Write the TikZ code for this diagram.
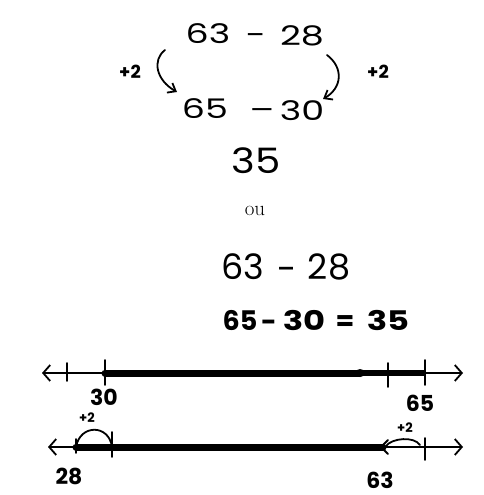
\documentclass[tikz,border=0pt]{standalone}
\usepackage{fontspec}
\setmainfont{Poppins}
\newfontfamily\wideA[FakeStretch=1.35]{Poppins}
\newfontfamily\wideB[FakeStretch=1.15]{Poppins}
\newfontfamily\wideC[FakeStretch=1.25]{Poppins}
\newfontfamily\lmr{Latin Modern Roman}
\usetikzlibrary{arrows.meta}
\tikzset{
  big/.style={font=\wideA\fontsize{27}{27}\selectfont, inner sep=0pt, anchor=base},
  res/.style={font=\wideB\fontsize{35}{35}\selectfont, inner sep=0pt, anchor=base},
  mid/.style={font=\fontsize{35}{35}\selectfont, inner sep=0pt, anchor=base},
  eq/.style={font=\wideC\fontsize{27}{27}\selectfont\bfseries, inner sep=0pt, anchor=base},
  eqn/.style={font=\fontsize{27}{27}\selectfont\bfseries, inner sep=0pt, anchor=base},
  lab/.style={font=\fontsize{22}{22}\selectfont\bfseries, inner sep=0pt},
  plus/.style={font=\fontsize{18}{18}\selectfont\bfseries, inner sep=0pt},
  tiny/.style={font=\fontsize{13}{13}\selectfont\bfseries, inner sep=0pt},
  pen/.style={line width=1.8pt, line cap=round, line join=round},
  curv/.style={pen, -{Straight Barb[length=7pt,width=11pt]}},
  axis/.style={pen, {Straight Barb[length=7pt,width=16pt]}-{Straight Barb[length=7pt,width=16pt]}},
  tick/.style={pen},
  bar/.style={line width=7pt, line cap=round},
}
\begin{document}
\begin{tikzpicture}[x=1pt,y=-1pt]
\useasboundingbox (0,0) rectangle (484,495);
% top calculation
\node[big] (a1) at (208,44) {63};
\node[big] (a2) at (256,45) {-};
\node[big] (a3) at (302,46) {28};
\node[big] (b1) at (205,118) {65};
\node[big] (b2) at (262,119) {–};
\node[big] (b3) at (302,120) {30};
\node[res] (c) at (256,173) {35};
\node[font=\lmr\fontsize{21}{21}\selectfont, inner sep=0pt] (ou) at (255,211) {ou};
\node[plus] (p1) at (130,72) {+2};
\node[plus] (p2) at (378,72) {+2};
\coordinate (l1) at (165,50);
\coordinate (l2) at (177,92);
\coordinate (r1) at (327,55);
\coordinate (r2) at (323,99);
\draw[curv] (l1) .. controls (152,60) and (156,80) .. (l2);
\draw[curv] (r1) .. controls (344,68) and (342,88) .. (r2);
% second method
\node[mid] (d1) at (243,279) {63};
\node[mid] (d2) at (287,281) {-};
\node[mid] (d3) at (329,279) {28};
\node[eqn] (e1) at (240,330) {65};
\node[eqn] (e2) at (269,331) {-};
\node[eq] (e3) at (304,330) {30};
\node[eqn] (e4) at (345,330) {=};
\node[eq] (e5) at (388,330) {35};
% number line 1
\coordinate (s1) at (42,373);
\coordinate (e1e) at (463,373);
\draw[axis] (s1) -- (e1e);
\coordinate (t30) at (105,373);
\coordinate (t65) at (425,373);
\draw[bar] (t30) -- (360,373);
\draw[line width=5.5pt] (360,373) -- (t65);
\fill (360,373) ellipse (5pt and 4pt);
\draw[tick] (67,363) -- (67,381);
\draw[tick] (105,360) -- (105,385);
\draw[tick] (388,363) -- (388,387);
\draw[tick] (425,360) -- (425,385);
\node[lab] (n30) at (104,397) {30};
\node[lab] (n65) at (420,403) {65};
% number line 2
\coordinate (s2) at (48,447);
\coordinate (e2e) at (463,447);
\draw[axis] (s2) -- (e2e);
\coordinate (t28) at (76,447);
\coordinate (t30b) at (112,447);
\coordinate (t63b) at (383,447);
\coordinate (t65b) at (425,447);
\draw[bar] (t28) -- (t63b);
\draw[tick] (76,439) -- (76,453);
\draw[tick] (112,432) -- (112,457);
\draw[tick] (425,438) -- (425,460);
\draw[pen] (t28) .. controls (80,424) and (109,424) .. (t30b);
\draw[pen] (386,446) .. controls (392,438) and (414,436) .. (420,445);
\draw[pen] (388,440) -- (381,447) -- (388,454);
\node[tiny] (q1) at (87,418) {+2};
\node[tiny] (q2) at (405,428) {+2};
\node[lab] (n28) at (69,476) {28};
\node[lab] (n63) at (380,480) {63};
\end{tikzpicture}
\end{document}
